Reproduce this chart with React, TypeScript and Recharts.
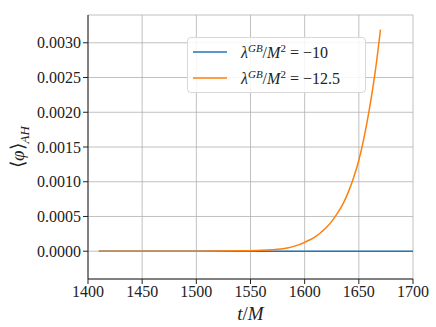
import React from "react"
import { LineChart, Line, XAxis, YAxis, CartesianGrid, Label } from "recharts"

const T_BLUE = [1410, 1450, 1500, 1550, 1600, 1650, 1700]
const PHI_BLUE = [0, 0, 0, 0, 0, 0, 0]

const T_ORANGE = [1410, 1450, 1500, 1520, 1540, 1550, 1560, 1570, 1575, 1580, 1585, 1590, 1595, 1600, 1605, 1610, 1615, 1620, 1625, 1630, 1635, 1640, 1645, 1650, 1655, 1660, 1665, 1670]
const PHI_ORANGE = [0, 0, 0.000001, 0.000003, 0.000006, 0.000008, 0.000013, 0.000021, 0.000027, 0.000036, 0.00005, 0.00007, 0.000095, 0.000128, 0.000165, 0.00021, 0.00027, 0.00034, 0.00043, 0.00054, 0.00067, 0.00084, 0.00105, 0.00131, 0.00165, 0.00207, 0.00257, 0.00319]

const X_TICKS = [1400, 1450, 1500, 1550, 1600, 1650, 1700]
const Y_TICKS = [0, 0.0005, 0.001, 0.0015, 0.002, 0.0025, 0.003]

const LEGEND = [
  { label: "−10", color: "#1f77b4" },
  { label: "−12.5", color: "#ff7f0e" },
]

const blueData = T_BLUE.map((t, i) => ({ t, phi: PHI_BLUE[i] }))
const orangeData = T_ORANGE.map((t, i) => ({ t, phi: PHI_ORANGE[i] }))

const FONT = "Liberation Serif, Times New Roman, Times, serif"

export default function App() {
  return (
    <div style={{ position: "absolute", left: 0, top: 0, width: 436, height: 327, background: "#fff", fontFamily: FONT }}>
      <LineChart width={436} height={327} margin={{ top: 15, right: 23, left: 0, bottom: 0 }}>
        <CartesianGrid stroke="#b0b0b0" strokeWidth={0.8} />
        <XAxis
          dataKey="t"
          type="number"
          domain={[1400, 1700]}
          ticks={X_TICKS}
          height={48}
          tickSize={5}
          stroke="#222"
          tick={{ fill: "#222", fontSize: 16, fontFamily: FONT }}
          allowDataOverflow
        >
          <Label
            content={({ viewBox }: any) => (
              <text x={viewBox.x + viewBox.width / 2} y={viewBox.y + 41} textAnchor="middle" fontFamily={FONT} fontSize={19} fill="#222">
                <tspan fontStyle="italic">t</tspan>/<tspan fontStyle="italic">M</tspan>
              </text>
            )}
          />
        </XAxis>
        <XAxis xAxisId="top" orientation="top" type="number" domain={[1400, 1700]} height={0} tick={false} tickLine={false} stroke="#222" />
        <YAxis
          type="number"
          domain={[-0.0004, 0.0034]}
          ticks={Y_TICKS}
          width={88}
          tickSize={5}
          stroke="#222"
          tickFormatter={(v: number) => v.toFixed(4)}
          tick={{ fill: "#222", fontSize: 16, fontFamily: FONT }}
          allowDataOverflow
        >
          <Label
            content={() => (
              <text x={24} y={147} transform="rotate(-90 24 147)" textAnchor="middle" fontFamily={FONT} fontSize={19} fill="#222">
                ⟨<tspan fontStyle="italic">φ</tspan>⟩<tspan fontStyle="italic" fontSize={13} dy={5}>AH</tspan>
              </text>
            )}
          />
        </YAxis>
        <YAxis yAxisId="right" orientation="right" width={0} tick={false} tickLine={false} stroke="#222" />
        <Line data={blueData} dataKey="phi" stroke="#1f77b4" strokeWidth={1.5} dot={false} isAnimationActive={false} />
        <Line data={orangeData} dataKey="phi" type="monotone" stroke="#ff7f0e" strokeWidth={1.5} dot={false} isAnimationActive={false} />
      </LineChart>
      <div
        style={{
          position: "absolute",
          left: 187,
          top: 37,
          width: 177,
          height: 54,
          border: "1px solid #d8d8d8",
          borderRadius: 4,
          background: "rgba(255,255,255,0.85)",
          fontSize: 16,
          color: "#222",
        }}
      >
        {LEGEND.map((e, i) => (
          <div key={i} style={{ position: "absolute", left: 5, top: 4 + i * 26, height: 20, display: "flex", alignItems: "center", whiteSpace: "nowrap" }}>
            <svg width={34} height={4} style={{ marginRight: 14 }}>
              <line x1={0} y1={2} x2={34} y2={2} stroke={e.color} strokeWidth={1.5} />
            </svg>
            <span>
              <i>λ</i>
              <sup style={{ fontSize: 11, fontStyle: "italic" }}>GB</sup>/<i>M</i>
              <sup style={{ fontSize: 11 }}>2</sup> = {e.label}
            </span>
          </div>
        ))}
      </div>
    </div>
  )
}
